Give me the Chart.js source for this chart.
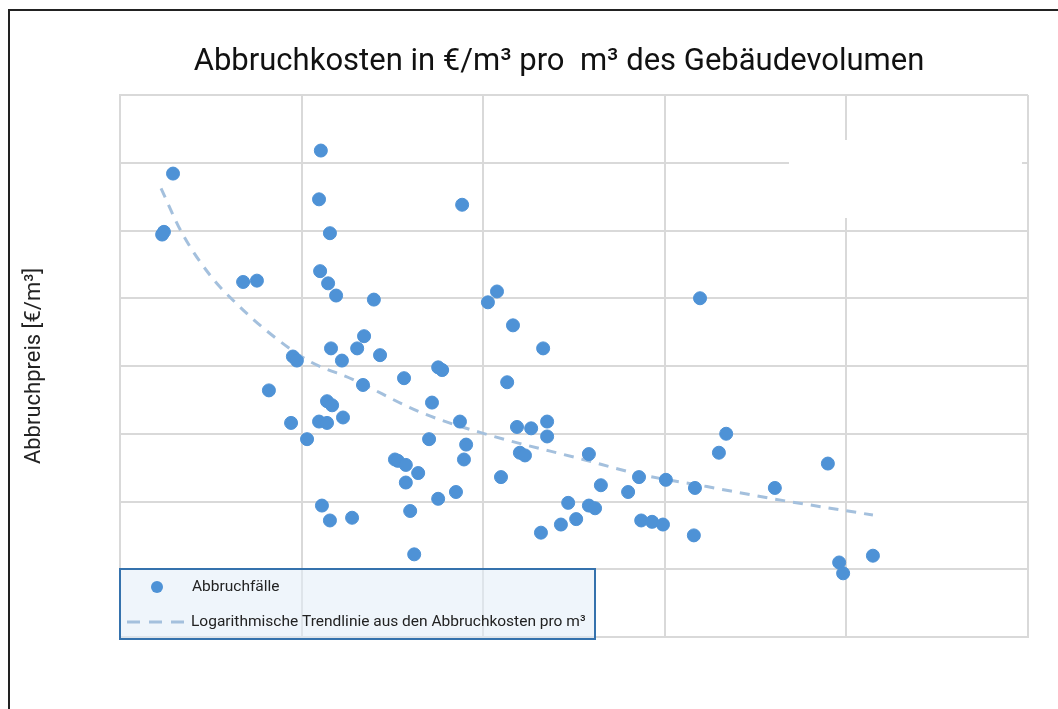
<!DOCTYPE html>
<html lang="de">
<head>
<meta charset="utf-8">
<title>Abbruchkosten</title>
<script src="https://cdn.jsdelivr.net/npm/chart.js@4.4.1/dist/chart.umd.min.js"></script>
<style>
  html, body { margin: 0; padding: 0; background: #fff; overflow: hidden; }
  #wrap { position: relative; width: 1058px; height: 709px; }
</style>
</head>
<body>
<div id="wrap"><canvas id="myChart"></canvas></div>
<script>
// Gebäudevolumen [m³] und Abbruchpreis [€/m³] je Abbruchfall
const volumen = [
  1460, 1160, 1210, 3390, 3770, 4100, 4760, 4870, 4710, 5150,
  5530, 5480, 5780, 5510, 5730, 5950, 6990, 5810, 6530, 6720,
  6110, 7160, 6690, 5700, 5840, 5480, 5700, 6140, 5560, 5780,
  6390, 7820, 8760, 8870, 8590, 9360, 8510, 9530, 9470, 7570,
  7650, 7870, 8210, 7870, 7990, 8760, 9250, 8100, 9420, 10130,
  10380, 10820, 11650, 10660, 10930, 11320, 11760, 11760, 11010, 11150,
  10490, 12910, 13240, 12340, 12910, 13080, 12560, 12140, 11590, 13990,
  14290, 15030, 14350, 14650, 14950, 15830, 15800, 15970, 16690, 16490,
  18030, 19490, 19800, 19910, 20730
];
const preis = [
  34.2, 29.7, 29.9, 26.2, 26.3, 18.2, 20.7, 20.4, 15.8, 14.6,
  35.9, 32.3, 29.8, 27.0, 26.1, 25.2, 24.9, 21.3, 21.3, 22.2,
  20.4, 20.8, 18.6, 17.4, 17.1, 15.9, 15.8, 16.2, 9.7, 8.6,
  8.8, 19.1, 19.9, 19.7, 17.3, 15.9, 14.6, 14.2, 13.1, 13.1,
  13.0, 12.7, 12.1, 11.4, 9.3, 10.2, 10.7, 6.1, 31.9, 24.7,
  25.5, 23.0, 21.3, 18.8, 15.5, 15.4, 15.9, 14.8, 13.6, 13.4,
  11.8, 13.5, 11.2, 9.9, 9.7, 9.5, 8.7, 8.3, 7.7, 10.7,
  11.8, 11.6, 8.6, 8.5, 8.3, 11.0, 7.5, 25.0, 15.0, 13.6,
  11.0, 12.8, 5.5, 4.7, 6.0
];

// Trendlinie
const trendVolumen = [1130, 1710, 2480, 3170, 4130, 5180, 6420, 8260, 9910, 12750, 14320, 16160, 17980, 20730];
const trendPreis = [33.1, 29.8, 26.7, 24.7, 22.4, 20.4, 19.0, 16.6, 15.1, 13.1, 12.0, 11.1, 10.2, 9.0];

const titel = "Abbruchkosten in €/m³ pro  m³ des Gebäudevolumen";

const punkte = volumen.map((v, i) => ({ x: v, y: preis[i] }));
const trend = trendVolumen.map((v, i) => ({ x: v, y: trendPreis[i] }));

const blau = "#4e92d6";
const trendBlau = "#a4c0dd";
const gitter = "#d9d9d9";
const schrift = "Roboto, 'Noto Sans', sans-serif";

const rahmen = {
  id: "rahmen",
  beforeDraw(chart) {
    const { ctx, width, height } = chart;
    ctx.save();
    ctx.fillStyle = "#fff";
    ctx.fillRect(0, 0, width, height);
    ctx.strokeStyle = "#222";
    ctx.lineWidth = 2;
    ctx.beginPath();
    ctx.moveTo(9, height);
    ctx.lineTo(9, 10);
    ctx.lineTo(width, 10);
    ctx.stroke();
    ctx.restore();
  },
  beforeDatasetsDraw(chart) {
    // weisser Fleck oben rechts wie im Scan
    const { ctx, chartArea: a } = chart;
    ctx.save();
    ctx.fillStyle = "#fff";
    ctx.fillRect(a.left + 669, a.top + 45, 233, 78);
    ctx.restore();
  },
  afterDraw(chart) {
    // Titel, leicht links der Mitte
    const { ctx, chartArea: a } = chart;
    ctx.save();
    ctx.font = "31px " + schrift;
    ctx.fillStyle = "#111";
    ctx.textAlign = "center";
    ctx.textBaseline = "middle";
    ctx.fillText(titel, (a.left + a.right) / 2 - 15, a.top - 33);
    ctx.restore();
  }
};

const legendeBox = {
  id: "legendeBox",
  afterDraw(chart) {
    const { ctx, chartArea: a } = chart;
    const x = a.left, y = a.bottom - 68, w = 475, h = 70;
    const [scatter, linie] = chart.data.datasets;
    ctx.save();
    ctx.fillStyle = "rgba(225,236,248,0.55)";
    ctx.fillRect(x, y, w, h);
    ctx.strokeStyle = "#3572ad";
    ctx.lineWidth = 2;
    ctx.strokeRect(x, y, w, h);
    ctx.font = "15.5px " + schrift;
    ctx.textBaseline = "middle";

    ctx.fillStyle = scatter.backgroundColor;
    ctx.beginPath();
    ctx.arc(x + 37, y + 18, 6, 0, Math.PI * 2);
    ctx.fill();
    ctx.fillStyle = "#222";
    ctx.fillText(scatter.label, x + 72, y + 18);

    ctx.strokeStyle = linie.borderColor;
    ctx.lineWidth = 3;
    ctx.setLineDash([13, 9]);
    ctx.beginPath();
    ctx.moveTo(x + 7, y + 53);
    ctx.lineTo(x + 66, y + 53);
    ctx.stroke();
    ctx.setLineDash([]);
    ctx.fillText(linie.label, x + 71, y + 53);
    ctx.restore();
  }
};

new Chart(document.querySelector("#myChart"), {
  type: "scatter",
  data: {
    datasets: [
      {
        label: "Abbruchfälle",
        data: punkte,
        backgroundColor: blau,
        borderColor: blau,
        pointRadius: 6.5,
        pointHoverRadius: 6.5,
        order: 1,
      },
      {
        type: "line",
        label: "Logarithmische Trendlinie aus den Abbruchkosten pro m³",
        data: trend,
        showLine: true,
        borderColor: trendBlau,
        borderWidth: 3,
        borderDash: [10, 8],
        pointRadius: 0,
        fill: false,
        cubicInterpolationMode: "monotone",
        order: 2,
      },
    ],
  },
  options: {
    responsive: true,
    maintainAspectRatio: false,
    animation: false,
    layout: { padding: { left: 19, right: 30, top: 95, bottom: 72 } },
    plugins: {
      legend: { display: false },
      tooltip: { enabled: false },
      title: { display: false },
    },
    scales: {
      x: {
        type: "linear",
        min: 0,
        max: 25000,
        ticks: { stepSize: 5000, display: false },
        grid: { color: gitter, lineWidth: 2, drawTicks: false },
        border: { color: gitter, width: 2 },
      },
      y: {
        min: 0,
        max: 40,
        ticks: { stepSize: 5, display: false },
        grid: { color: gitter, lineWidth: 2, drawTicks: false },
        border: { color: gitter, width: 2 },
        title: {
          display: true,
          text: "Abbruchpreis [€/m³]",
          color: "#222",
          font: { family: schrift, size: 22 },
          padding: { top: 2, bottom: 72.6 },
        },
      },
    },
  },
  plugins: [rahmen, legendeBox],
});
</script>
</body>
</html>
